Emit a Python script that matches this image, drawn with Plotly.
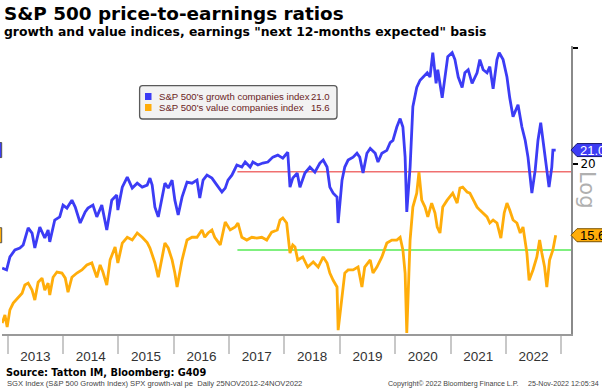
import math
import plotly.graph_objects as go

# ---------------- data ----------------
growth_t = [2012.90, 2012.98, 2013.04, 2013.13, 2013.22, 2013.28, 2013.37, 2013.44, 2013.49, 2013.58,
            2013.67, 2013.73, 2013.76, 2013.85, 2013.94, 2014.00, 2014.07, 2014.16, 2014.22, 2014.31,
            2014.40, 2014.45, 2014.54, 2014.61, 2014.70, 2014.79, 2014.88, 2014.97, 2014.99, 2015.07,
            2015.16, 2015.25, 2015.34, 2015.43, 2015.52, 2015.57, 2015.61, 2015.66, 2015.72, 2015.79,
            2015.84, 2015.90, 2015.97, 2016.02, 2016.08, 2016.15, 2016.24, 2016.33, 2016.42, 2016.47,
            2016.53, 2016.60, 2016.69, 2016.78, 2016.87, 2016.93, 2016.98, 2017.05, 2017.14, 2017.23,
            2017.29, 2017.38, 2017.43, 2017.52, 2017.61, 2017.70, 2017.79, 2017.88, 2017.97, 2018.06,
            2018.10, 2018.15, 2018.23, 2018.28, 2018.37, 2018.46, 2018.55, 2018.64, 2018.70, 2018.77,
            2018.82, 2018.88, 2018.95, 2018.97, 2019.04, 2019.09, 2019.15, 2019.24, 2019.31, 2019.36,
            2019.42, 2019.49, 2019.55, 2019.64, 2019.69, 2019.76, 2019.85, 2019.91, 2019.96, 2020.03,
            2020.09, 2020.14, 2020.18, 2020.21, 2020.27, 2020.32, 2020.39, 2020.45, 2020.50, 2020.58,
            2020.63, 2020.68, 2020.74, 2020.77, 2020.85, 2020.90, 2020.95, 2021.03, 2021.08, 2021.14,
            2021.21, 2021.26, 2021.32, 2021.39, 2021.48, 2021.53, 2021.59, 2021.66, 2021.71, 2021.77,
            2021.84, 2021.88, 2021.95, 2022.02, 2022.07, 2022.13, 2022.22, 2022.29, 2022.35, 2022.40,
            2022.47, 2022.53, 2022.58, 2022.63, 2022.67, 2022.74, 2022.78, 2022.83, 2022.85, 2022.90]
growth_pe = [13.91, 13.82, 14.46, 14.82, 14.92, 15.08, 16.00, 15.72, 14.92, 16.05,
             15.45, 15.89, 15.24, 16.45, 16.63, 17.33, 17.15, 17.63, 17.21, 16.28,
             16.92, 17.15, 17.33, 16.63, 17.33, 15.89, 17.63, 17.95, 17.03, 18.45,
             19.11, 18.39, 18.71, 18.45, 18.58, 19.04, 18.58, 17.21, 16.63, 17.82,
             18.71, 18.39, 18.91, 17.63, 16.74, 17.82, 18.78, 18.71, 18.91, 17.76,
             18.91, 19.24, 19.04, 18.58, 18.14, 18.39, 18.91, 19.24, 19.93, 19.79,
             20.14, 19.79, 20.14, 19.93, 20.07, 20.14, 20.49, 20.63, 20.42, 20.84,
             18.45, 19.04, 19.38, 18.45, 19.38, 19.79, 19.44, 20.07, 20.28, 19.79,
             18.45, 18.07, 17.82, 16.28, 18.91, 19.79, 20.28, 20.49, 20.77, 20.49,
             19.38, 20.77, 21.12, 20.77, 20.14, 20.77, 20.98, 21.56, 21.72, 22.76,
             23.44, 22.76, 20.49, 16.92, 19.79, 24.43, 26.13, 26.80, 27.10, 27.50,
             27.10, 29.50, 26.50, 27.80, 25.20, 27.10, 29.10, 29.50, 28.80, 27.10,
             26.13, 27.50, 27.80, 26.50, 27.50, 28.80, 27.80, 27.50, 28.10, 26.00,
             28.80, 29.50, 28.80, 27.10, 25.20, 23.60, 24.60, 22.76, 21.72, 20.49,
             18.07, 19.58, 21.72, 23.10, 21.72, 19.79, 18.45, 19.79, 21.00, 21.00]

value_t = [2012.90, 2012.95, 2012.99, 2013.04, 2013.10, 2013.19, 2013.26, 2013.31, 2013.37, 2013.44,
           2013.49, 2013.55, 2013.62, 2013.67, 2013.73, 2013.76, 2013.82, 2013.89, 2013.98, 2014.04,
           2014.09, 2014.16, 2014.25, 2014.34, 2014.43, 2014.52, 2014.61, 2014.67, 2014.72, 2014.79,
           2014.85, 2014.94, 2014.99, 2015.07, 2015.16, 2015.25, 2015.34, 2015.43, 2015.52, 2015.57,
           2015.66, 2015.72, 2015.79, 2015.84, 2015.90, 2015.97, 2016.02, 2016.06, 2016.15, 2016.24,
           2016.33, 2016.42, 2016.51, 2016.56, 2016.62, 2016.69, 2016.74, 2016.84, 2016.93, 2017.02,
           2017.11, 2017.16, 2017.23, 2017.32, 2017.41, 2017.50, 2017.59, 2017.68, 2017.77, 2017.87,
           2017.92, 2017.97, 2018.04, 2018.10, 2018.15, 2018.19, 2018.24, 2018.33, 2018.42, 2018.52,
           2018.61, 2018.70, 2018.77, 2018.82, 2018.88, 2018.95, 2018.97, 2019.04, 2019.09, 2019.15,
           2019.24, 2019.33, 2019.40, 2019.45, 2019.55, 2019.60, 2019.67, 2019.76, 2019.85, 2019.94,
           2020.03, 2020.09, 2020.14, 2020.18, 2020.21, 2020.27, 2020.32, 2020.39, 2020.43, 2020.48,
           2020.54, 2020.59, 2020.66, 2020.72, 2020.76, 2020.81, 2020.86, 2020.94, 2020.99, 2021.04,
           2021.12, 2021.17, 2021.22, 2021.30, 2021.35, 2021.41, 2021.48, 2021.53, 2021.59, 2021.66,
           2021.71, 2021.77, 2021.84, 2021.91, 2021.97, 2022.02, 2022.07, 2022.13, 2022.20, 2022.26,
           2022.31, 2022.38, 2022.42, 2022.49, 2022.56, 2022.61, 2022.65, 2022.70, 2022.74, 2022.79,
           2022.85, 2022.90]
value_pe = [11.48, 11.81, 11.32, 12.02, 12.31, 12.57, 12.74, 13.11, 13.20, 12.88,
            12.44, 13.24, 13.43, 12.88, 13.20, 12.66, 13.47, 13.72, 13.67, 13.43,
            12.79, 13.47, 13.67, 13.82, 14.06, 14.16, 13.47, 14.06, 13.72, 13.11,
            14.31, 14.97, 14.16, 15.18, 15.49, 15.34, 15.72, 15.49, 15.20, 14.92,
            14.16, 13.47, 14.46, 15.18, 14.92, 14.31, 13.67, 13.02, 14.31, 15.34,
            15.49, 15.49, 15.89, 15.49, 15.72, 15.89, 15.49, 15.08, 16.33, 15.89,
            16.05, 16.28, 15.49, 15.34, 15.49, 15.44, 15.49, 15.34, 15.77, 15.89,
            16.45, 16.57, 16.28, 14.66, 15.08, 14.97, 14.31, 14.46, 13.96, 14.21,
            13.96, 14.46, 14.16, 13.67, 13.33, 13.02, 11.20, 12.74, 13.67, 13.82,
            13.82, 13.96, 13.02, 13.96, 14.31, 13.67, 13.96, 14.46, 15.18, 15.34,
            15.34, 15.49, 14.82, 13.67, 11.09, 15.34, 17.21, 18.07, 19.44, 17.63,
            17.21, 16.63, 17.45, 16.86, 16.05, 15.72, 17.21, 17.63, 17.82, 18.07,
            17.45, 18.39, 18.45, 18.14, 18.07, 17.63, 17.21, 17.03, 16.86, 16.63,
            16.28, 16.45, 16.28, 15.44, 16.86, 17.45, 17.03, 16.45, 16.28, 15.72,
            16.05, 14.66, 13.33, 13.82, 14.46, 15.34, 14.66, 13.96, 13.02, 14.31,
            14.82, 15.60]

ref_start = 2017.15
growth_ref = 19.47
value_ref = 14.82
last_growth = 21.0
last_value = 15.6

year_labels = ["2013", "2014", "2015", "2016", "2017", "2018", "2019", "2020", "2021", "2022"]
year_bounds = [2013, 2014, 2015, 2016, 2017, 2018, 2019, 2020, 2021, 2022, 2023]

growth_name = "S&P 500's growth companies index"
value_name = "S&P 500's value companies index"

# ---------------- layout geometry ----------------
W, H = 602, 391
ML, MR, MT, MB = 2, 31, 46, 57
PW = W - ML - MR
PH = H - MT - MB
X_RANGE = [2012.897, 2023.177]
Y_RANGE = [math.log10(11.05), math.log10(30.20)]

BLUE = "#3c3cf5"
ORANGE = "#ffad0a"
LEG_FONT = dict(family="Liberation Sans", size=9.6, color="#6a2424")


def px(x):
    return (x - ML) / PW


def py(y):
    return (H - MB - y) / PH


def yv(v):
    return (math.log10(v) - Y_RANGE[0]) / (Y_RANGE[1] - Y_RANGE[0])


fig = go.Figure()
fig.add_trace(go.Scatter(x=[ref_start, X_RANGE[1]], y=[growth_ref, growth_ref], mode="lines",
                         line=dict(color="#f07070", width=1.5), showlegend=False, hoverinfo="skip"))
fig.add_trace(go.Scatter(x=[ref_start, X_RANGE[1]], y=[value_ref, value_ref], mode="lines",
                         line=dict(color="#7ff07f", width=2), showlegend=False, hoverinfo="skip"))
fig.add_trace(go.Scatter(x=growth_t, y=growth_pe, mode="lines", name=growth_name,
                         line=dict(color=BLUE, width=2.8), showlegend=False))
fig.add_trace(go.Scatter(x=value_t, y=value_pe, mode="lines", name=value_name,
                         line=dict(color=ORANGE, width=2.8), showlegend=False))

shapes = []
ann = []

# legend box (rounded)
lx0, lx1, ly0, ly1, r = 139.6, 337, 85.7, 119, 3
path = (f"M {px(lx0 + r)} {py(ly0)} L {px(lx1 - r)} {py(ly0)} Q {px(lx1)} {py(ly0)} {px(lx1)} {py(ly0 + r)} "
        f"L {px(lx1)} {py(ly1 - r)} Q {px(lx1)} {py(ly1)} {px(lx1 - r)} {py(ly1)} "
        f"L {px(lx0 + r)} {py(ly1)} Q {px(lx0)} {py(ly1)} {px(lx0)} {py(ly1 - r)} "
        f"L {px(lx0)} {py(ly0 + r)} Q {px(lx0)} {py(ly0)} {px(lx0 + r)} {py(ly0)} Z")
shapes.append(dict(type="path", xref="paper", yref="paper", path=path,
                   fillcolor="#f2f2f2", line=dict(color="#5a5a5a", width=1.3)))
for i, (nm, val, col) in enumerate([(growth_name, last_growth, BLUE), (value_name, last_value, ORANGE)]):
    cy = 96.5 + i * 11
    shapes.append(dict(type="rect", xref="paper", yref="paper", x0=px(145), x1=px(151.5),
                       y0=py(cy - 3.5), y1=py(cy + 3.5), fillcolor=col, line=dict(width=0)))
    ann.append(dict(x=px(156.5), y=py(cy), xref="paper", yref="paper", xanchor="left", yanchor="middle",
                    text=nm, showarrow=False, font=LEG_FONT))
    ann.append(dict(x=px(332), y=py(cy), xref="paper", yref="paper", xanchor="right", yanchor="middle",
                    text=f"{val:.1f}", showarrow=False, font=LEG_FONT))

# right-side value tags
for val, fill, border, tcol in [(last_growth, "#3c3cf5", "#1a1a70", "white"),
                                (last_value, "#ffad0a", "#7a5200", "black")]:
    yc = yv(val)
    h = 6.5 / PH
    tag = (f"M {px(571)} {yc} L {px(577)} {yc + h} L {px(606)} {yc + h} "
           f"L {px(606)} {yc - h} L {px(577)} {yc - h} Z")
    shapes.append(dict(type="path", xref="paper", yref="paper", path=tag, fillcolor=fill,
                       line=dict(color=border, width=1)))
    ann.append(dict(x=px(577.5), y=yc, xref="paper", yref="paper", xanchor="left", yanchor="middle",
                    text=f"{val:.1f}", showarrow=False,
                    font=dict(family="Liberation Sans", size=13, color=tcol)))

# cut-off left labels
for val, fill in [(last_growth, "#3c3cf5"), (last_value, "#ffad0a")]:
    yc = yv(val)
    h = 7.5 / PH
    shapes.append(dict(type="rect", xref="paper", yref="paper", x0=px(-3), x1=px(1.7),
                       y0=yc - h, y1=yc + h, fillcolor=fill, line=dict(color="#555", width=1)))

# "Log" label
ann.append(dict(x=px(587), y=py(190), xref="paper", yref="paper", text="Log", textangle=90,
                xanchor="center", yanchor="middle",
                showarrow=False, font=dict(family="DejaVu Sans", size=21, color="#b0b0b0")))

# titles
ann.append(dict(x=px(2), y=py(14), xref="paper", yref="paper", xanchor="left", yanchor="middle",
                text="<b>S&P 500 price-to-earnings ratios</b>", showarrow=False,
                font=dict(family="DejaVu Sans", size=18.4, color="black")))
ann.append(dict(x=px(2), y=py(31.5), xref="paper", yref="paper", xanchor="left", yanchor="middle",
                text="<b>growth and value indices, earnings \"next 12-months expected\" basis</b>",
                showarrow=False, font=dict(family="DejaVu Sans", size=12.4, color="black")))
# footer
ann.append(dict(x=px(4), y=py(372.5), xref="paper", yref="paper", xanchor="left", yanchor="middle",
                text="<b>Source: Tatton IM, Bloomberg: G409</b>", showarrow=False,
                font=dict(family="DejaVu Sans", size=9.8, color="black")))
small = dict(family="Liberation Sans", size=7.6, color="#444")
small2 = dict(family="Liberation Sans", size=7.1, color="#444")
ann.append(dict(x=px(4.5), y=py(383.5), xref="paper", yref="paper", xanchor="left", yanchor="middle",
                text="SGX Index (S&P 500 Growth Index) SPX growth-val pe  Daily 25NOV2012-24NOV2022",
                showarrow=False, font=small))
ann.append(dict(x=px(386), y=py(383.5), xref="paper", yref="paper", xanchor="left", yanchor="middle",
                text="Copyright© 2022 Bloomberg Finance L.P.", showarrow=False, font=small2))
ann.append(dict(x=px(601), y=py(383.5), xref="paper", yref="paper", xanchor="right", yanchor="middle",
                text="25-Nov-2022 12:05:34", showarrow=False, font=small2))

fig.update_layout(
    width=W, height=H, margin=dict(l=ML, r=MR, t=MT, b=MB, autoexpand=False),
    paper_bgcolor="white", plot_bgcolor="white", showlegend=False,
    shapes=shapes, annotations=ann,
    xaxis=dict(range=X_RANGE, showgrid=False, zeroline=False, showline=True, linecolor="#9a9a9a",
               linewidth=1.5, tickvals=[b + 0.5 for b in year_bounds[:-1]], ticktext=year_labels,
               ticks="", ticklabelstandoff=9, automargin=False,
               tickfont=dict(family="Liberation Sans", size=13.5, color="#333"),
               minor=dict(tickvals=year_bounds, ticks="outside", ticklen=18, tickcolor="#c8c8c8",
                          tickwidth=1.5)),
    yaxis=dict(type="log", range=Y_RANGE, side="right", showgrid=False, zeroline=False,
               showline=True, linecolor="#8a8a8a", linewidth=2, tickvals=[20, 30], ticktext=["20", ""],
               ticks="outside", ticklen=5, tickwidth=2, tickcolor="black", automargin=False,
               tickfont=dict(family="DejaVu Sans", size=12, color="black")),
)

fig.write_html("out.html", config={"displayModeBar": False},
               post_script="document.body.style.margin='0';")
